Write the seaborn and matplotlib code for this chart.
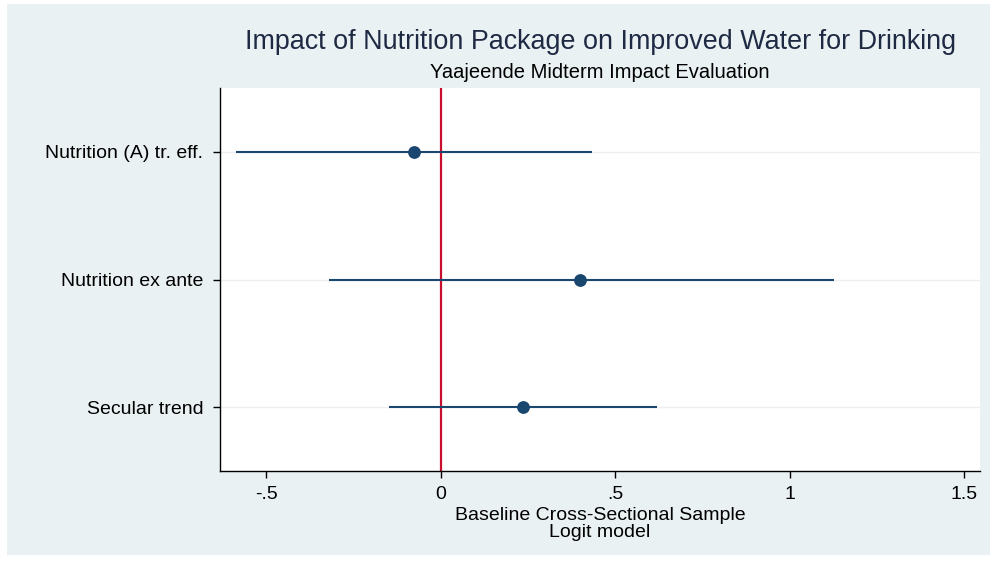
import numpy as np
import pandas as pd
import matplotlib
matplotlib.use("Agg")
import matplotlib.pyplot as plt
import seaborn as sns
from matplotlib.patches import Rectangle

categories = ["Nutrition (A) tr. eff.", "Nutrition ex ante", "Secular trend"]
estimates = [-0.077, 0.398, 0.235]
ci_low = [-0.587, -0.321, -0.149]
ci_high = [0.433, 1.126, 0.619]
xticks = [-0.5, 0, 0.5, 1, 1.5]
xticklabels = ["-.5", "0", ".5", "1", "1.5"]

df = pd.DataFrame({"term": categories, "est": estimates, "lo": ci_low, "hi": ci_high})

sns.set_theme(style="white")
plt.rcParams["font.family"] = ["Liberation Sans", "DejaVu Sans"]
plt.rcParams["xtick.labelcolor"] = "black"
plt.rcParams["ytick.labelcolor"] = "black"

fig = plt.figure(figsize=(9.97, 5.62), dpi=100, facecolor="white")
bg = Rectangle((7/997, 1 - 555/562), (990-7)/997, (555-4)/562,
               transform=fig.transFigure, facecolor="#EAF1F3",
               edgecolor="none", zorder=-10)
fig.add_artist(bg)
ax = fig.add_axes([220/997, 1 - 471/562, (980-220)/997, (471-88)/562])
ax.set_zorder(1)
ax.set_facecolor("white")

ypos = np.arange(len(categories))
for y in ypos:
    ax.axhline(y, color="#EEEEEE", lw=1.0, zorder=0)
ax.axvline(0, color="#C8102E", lw=1.6, zorder=1)
ax.hlines(ypos, df["lo"], df["hi"], color="#1A476F", lw=1.5, zorder=2)
sns.scatterplot(data=df, x="est", y="term", ax=ax, color="#1A476F", s=85,
                edgecolor="#1A476F", linewidth=0, zorder=3)

ax.set_xlim(-0.633, 1.545)
ax.set_ylim(2.5, -0.5)
ax.set_xticks(xticks)
ax.set_xticklabels(xticklabels, fontsize=14)
ax.set_yticks(ypos)
ax.set_yticklabels(categories, fontsize=14)
ax.tick_params(axis="both", direction="out", length=5, width=1, color="black",
               labelcolor="black", bottom=True, left=True)
ax.tick_params(axis="y", pad=7)
ax.tick_params(axis="x", pad=6)
for s in ["top", "right"]:
    ax.spines[s].set_visible(False)
for s in ["left", "bottom"]:
    ax.spines[s].set_color("black")
    ax.spines[s].set_linewidth(1.0)
ax.set_ylabel("")
ax.set_xlabel("Baseline Cross-Sectional Sample\nLogit model", fontsize=14,
              color="black", labelpad=3, linespacing=1.0)

fig.text(601/997, 1 - 42/562, "Impact of Nutrition Package on Improved Water for Drinking",
         ha="center", va="center", fontsize=19.4, color="#1E2A44")
fig.text(600/997, 1 - 73/562, "Yaajeende Midterm Impact Evaluation",
         ha="center", va="center", fontsize=14.5, color="black")

fig.savefig("out.png", dpi=100, facecolor="white")
